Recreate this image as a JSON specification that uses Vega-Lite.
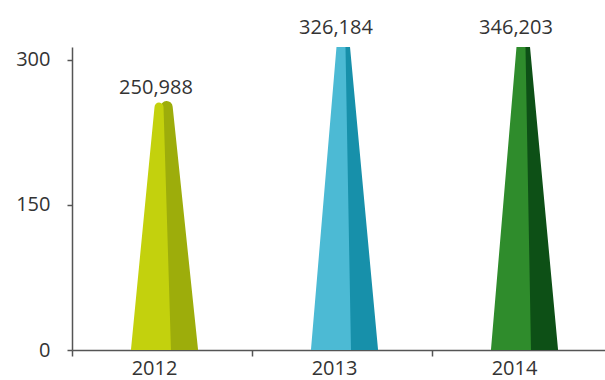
{
  "$schema": "https://vega.github.io/schema/vega-lite/v6.json",
  "autosize": {"type": "none"},
  "padding": {"left": 72, "top": 47, "right": 0, "bottom": 30},
  "width": 533,
  "height": 303,
  "background": "white",
  "config": {
    "view": {"stroke": null},
    "font": "Open Sans",
    "axis": {"grid": false, "title": null, "labelFont": "Open Sans", "labelFontSize": 20, "labelColor": "#333333", "domainColor": "#555555", "tickColor": "#555555", "domainWidth": 1.5, "tickWidth": 1.5}
  },
  "data": {
    "values": [
      {"year": "2012", "base": 0, "value": 250988},
      {"year": "2013", "base": 0, "value": 326184},
      {"year": "2014", "base": 0, "value": 346203}
    ]
  },
  "encoding": {
    "x": {
      "field": "year",
      "type": "nominal",
      "scale": {"range": [0, 540], "paddingInner": 0, "paddingOuter": 0},
      "axis": {"labelAngle": 0, "tickBand": "extent", "tickSize": 6, "labelPadding": 2, "labelOffset": -8}
    }
  },
  "layer": [
    {
      "transform": [{"fold": ["base", "value"], "as": ["key", "level"]}],
      "mark": {"type": "trail", "clip": true, "opacity": 1},
      "encoding": {
        "y": {
          "field": "level",
          "type": "quantitative",
          "scale": {"domain": [0, 313000], "clamp": true, "nice": false},
          "axis": {"values": [0, 150000, 300000], "labelExpr": "format(datum.value / 1000, 'd')", "tickSize": 5, "labelPadding": 17}
        },
        "xOffset": {
          "field": "level",
          "type": "quantitative",
          "scale": {"domain": [0, 313000], "range": [105.5, 92], "clamp": true, "zero": false, "nice": false}
        },
        "size": {
          "field": "key",
          "type": "ordinal",
          "scale": {"type": "ordinal", "domain": ["base", "value"], "range": [41, 12]},
          "legend": null
        },
        "color": {
          "field": "year",
          "type": "nominal",
          "scale": {"range": ["#9dad0b", "#1790aa", "#0d5016"]},
          "legend": null
        },
        "order": {"field": "level", "type": "quantitative"}
      }
    },
    {
      "transform": [{"fold": ["base", "value"], "as": ["key", "level"]}],
      "mark": {"type": "trail", "clip": true, "opacity": 1},
      "encoding": {
        "y": {"field": "level", "type": "quantitative"},
        "xOffset": {
          "field": "level",
          "type": "quantitative",
          "scale": {"domain": [0, 313000], "range": [79, 89], "clamp": true, "zero": false, "nice": false}
        },
        "size": {
          "field": "key",
          "type": "ordinal",
          "scale": {"type": "ordinal", "domain": ["base", "value"], "range": [40, 9]},
          "legend": null
        },
        "color": {
          "field": "year",
          "type": "nominal",
          "scale": {"range": ["#c3d10d", "#4cbad4", "#2f8c2c"]},
          "legend": null
        },
        "order": {"field": "level", "type": "quantitative"}
      }
    },
    {
      "mark": {"type": "text", "fontSize": 20, "font": "Open Sans", "color": "#333333", "baseline": "alphabetic", "dy": -13, "dx": -6},
      "encoding": {
        "y": {"field": "value", "type": "quantitative"},
        "text": {"field": "value", "type": "quantitative", "format": ",d"}
      }
    }
  ],
  "resolve": {"scale": {"xOffset": "independent", "size": "independent", "color": "independent"}}
}
